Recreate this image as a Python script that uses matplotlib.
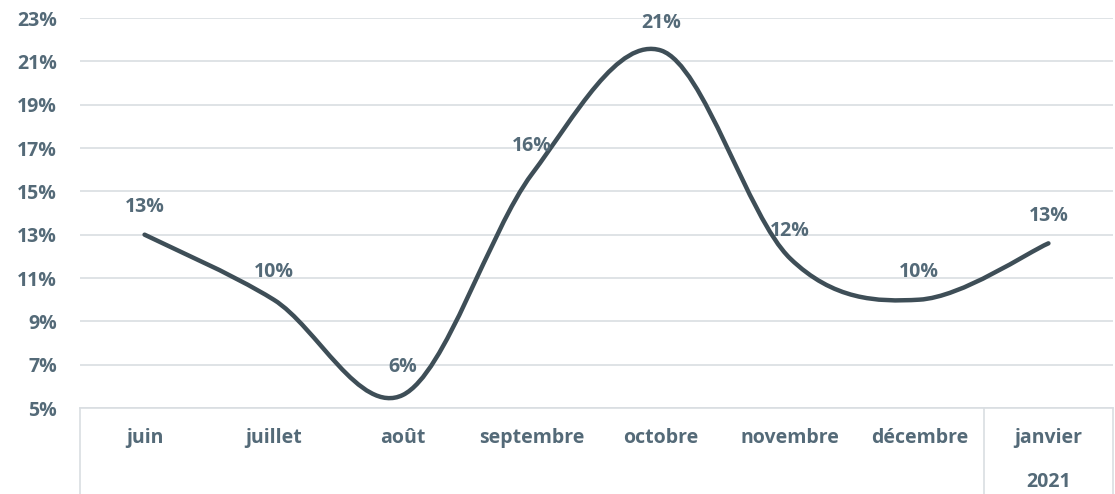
import numpy as np
import matplotlib
matplotlib.use("Agg")
import matplotlib.pyplot as plt
from matplotlib.path import Path
from matplotlib.patches import PathPatch

months = ["juin", "juillet", "août", "septembre", "octobre", "novembre", "décembre", "janvier"]
values = [13.0, 10.0, 5.6, 15.8, 21.5, 11.9, 10.0, 12.6]
labels = ["13%", "10%", "6%", "16%", "21%", "12%", "10%", "13%"]
year_label = "2021"
yticks = [5, 7, 9, 11, 13, 15, 17, 19, 21, 23]

line_col = "#3e4e57"
text_col = "#546a78"
grid_col = "#d9dee2"
fs = 14

plt.rcParams['font.family'] = ['Open Sans', 'DejaVu Sans']

fig = plt.figure(figsize=(11.15, 4.94), dpi=100)
ax = fig.add_axes([80 / 1115, 1 - 408 / 494, 1033 / 1115, 390 / 494])

x = np.arange(len(values)) + 0.5
y = np.array(values)

# smoothed line, Excel style bezier segments
verts = [(x[0], y[0])]
codes = [Path.MOVETO]
n = len(x)
for i in range(n - 1):
    p0 = (x[max(i - 1, 0)], y[max(i - 1, 0)])
    p1 = (x[i], y[i])
    p2 = (x[i + 1], y[i + 1])
    p3 = (x[min(i + 2, n - 1)], y[min(i + 2, n - 1)])
    c1 = (p1[0] + (p2[0] - p0[0]) / 6, p1[1] + (p2[1] - p0[1]) / 6)
    c2 = (p2[0] - (p3[0] - p1[0]) / 6, p2[1] - (p3[1] - p1[1]) / 6)
    verts += [c1, c2, p2]
    codes += [Path.CURVE4] * 3
ax.add_patch(PathPatch(Path(verts, codes), facecolor="none", edgecolor=line_col,
                       lw=3.2, capstyle="round", zorder=3))

for xi, yi, lab in zip(x, y, labels):
    ax.annotate(lab, (xi, yi), xytext=(0, 20), textcoords="offset points",
                ha="center", va="center", fontsize=fs, fontweight="bold", color=text_col)

ax.set_xlim(0, len(values))
ax.set_ylim(5, 23)
ax.set_yticks(yticks)
ax.set_yticklabels([f"{t}%" for t in yticks])
ax.yaxis.grid(True, color=grid_col, lw=1.2)
ax.set_axisbelow(True)
ax.tick_params(axis="y", length=0, pad=16.5, labelsize=fs, labelcolor=text_col)
for lab in ax.get_yticklabels():
    lab.set_fontweight("bold")
ax.set_xticks([])
for s in ["left", "right", "top"]:
    ax.spines[s].set_visible(False)
ax.spines["bottom"].set_color(grid_col)
ax.spines["bottom"].set_linewidth(1.2)

# multi-level category axis
trans = ax.get_xaxis_transform()
for xi, m in zip(x, months):
    ax.text(xi, -30 / 390, m, transform=trans, ha="center", va="center",
            fontsize=fs, fontweight="bold", color=text_col)
ax.text(x[-1], -74 / 390, year_label, transform=trans, ha="center", va="center",
        fontsize=fs, fontweight="bold", color=text_col)
for xb in [0, len(values) - 1, len(values)]:
    ax.plot([xb, xb], [0, -86 / 390], transform=trans, color=grid_col, lw=1.2, clip_on=False)

fig.savefig("out.png", dpi=100)
